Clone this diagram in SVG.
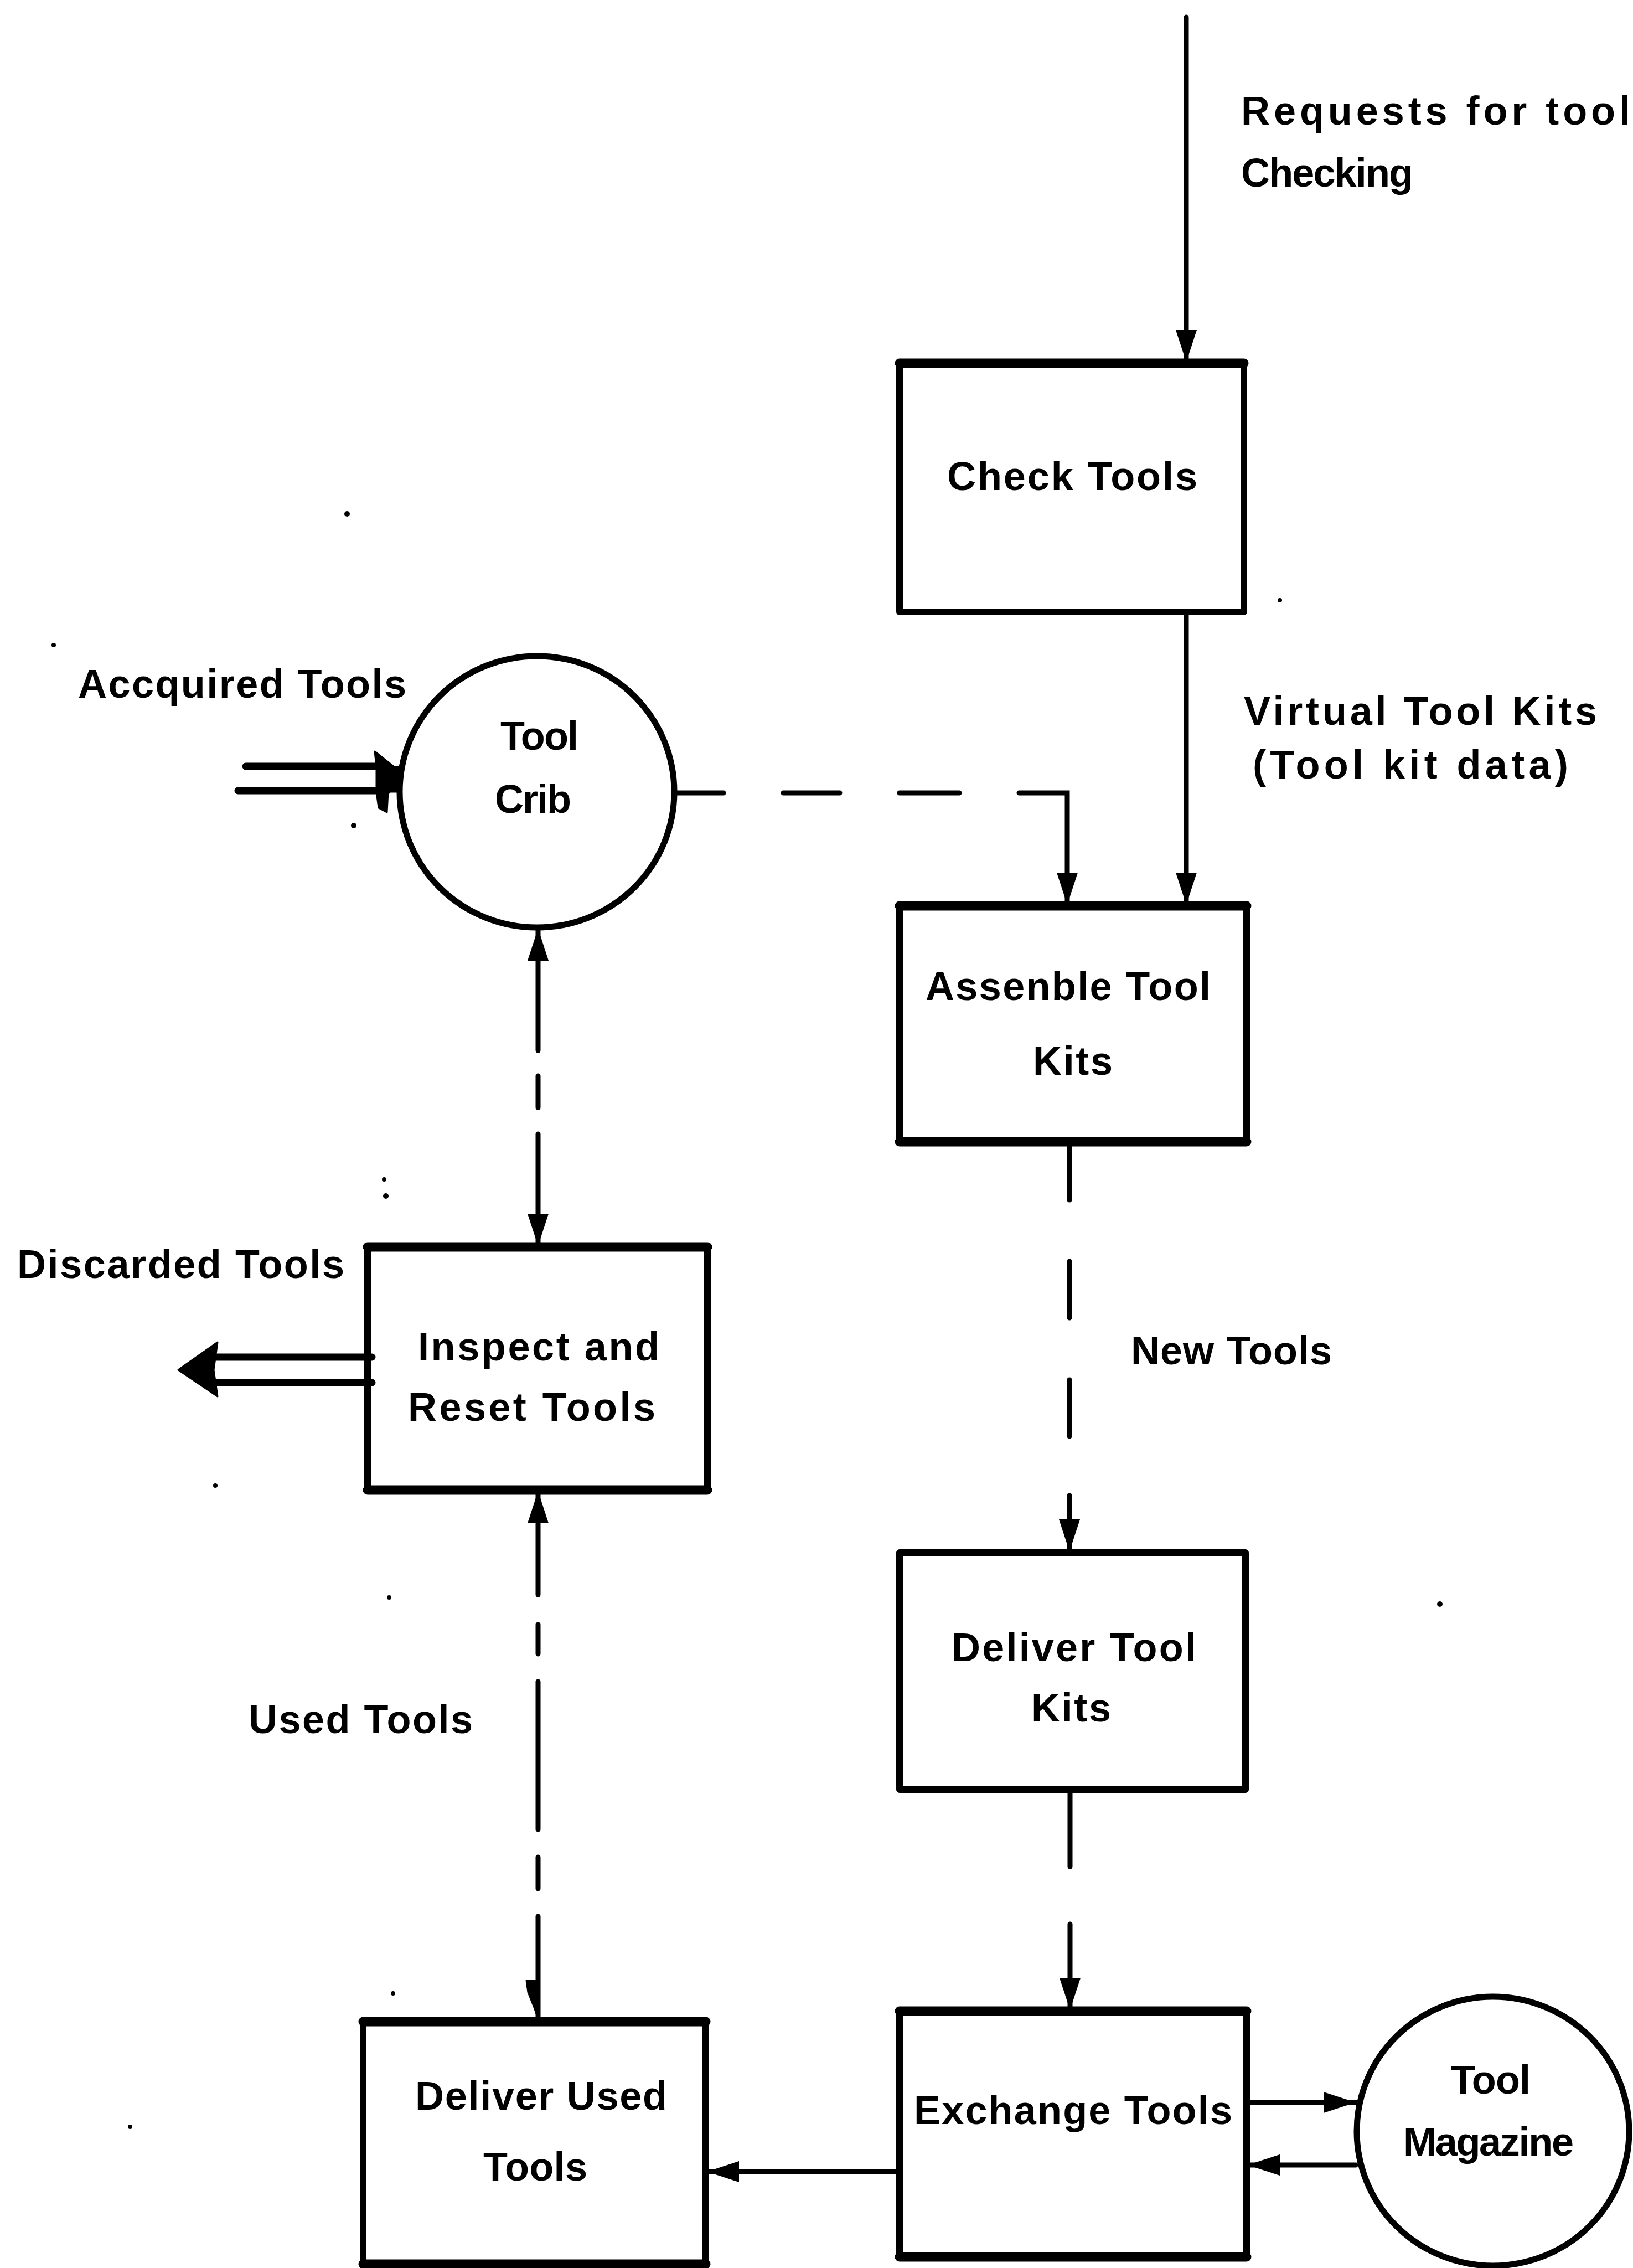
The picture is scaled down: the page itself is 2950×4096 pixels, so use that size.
<svg xmlns="http://www.w3.org/2000/svg" width="2950" height="4096" viewBox="0 0 2950 4096">
  <defs>
    <style>
      .box { fill: none; stroke: #000; stroke-width: 12; stroke-linejoin: round; }
      .edge { stroke: #000; stroke-width: 17; stroke-linecap: round; }
      .store { fill: none; stroke: #000; stroke-width: 11; }
      .flow { fill: none; stroke: #000; stroke-width: 9; stroke-linecap: round; }
      .bulk { fill: none; stroke: #000; stroke-width: 13; stroke-linecap: round; }
      .head { fill: #000; stroke: #000; stroke-width: 3; stroke-linejoin: round; }
      .lbl { font-family: "Liberation Sans", Arial, sans-serif; font-weight: bold; font-size: 72px; fill: #000; }
      .speck { fill: #000; }
    </style>
    <marker id="ah" markerUnits="userSpaceOnUse" viewBox="0 0 58 42" refX="58" refY="21" markerWidth="58" markerHeight="42" orient="auto-start-reverse">
      <path d="M0,2 L58,21 L0,40 Z" fill="#000"/>
    </marker>
  </defs>

  <!-- processes -->
  <g id="check-tools">
    <rect class="box" x="1625" y="656" width="622" height="449"/>
    <line class="edge" x1="1625" y1="656" x2="2247" y2="656"/>
    <text class="lbl" x="1711" y="885" textLength="452" lengthAdjust="spacing">Check Tools</text>
  </g>

  <g id="assemble-tool-kits">
    <rect class="box" x="1625" y="1636" width="627" height="426"/>
    <line class="edge" x1="1625" y1="1636" x2="2252" y2="1636"/>
    <line class="edge" x1="1625" y1="2062" x2="2252" y2="2062"/>
    <text class="lbl" x="1672" y="1806" textLength="515" lengthAdjust="spacing">Assenble Tool</text>
    <text class="lbl" x="1866" y="1941" textLength="144" lengthAdjust="spacing">Kits</text>
  </g>

  <g id="deliver-tool-kits">
    <rect class="box" x="1625" y="2804" width="625" height="428"/>
    <text class="lbl" x="1719" y="3000" textLength="442" lengthAdjust="spacing">Deliver Tool</text>
    <text class="lbl" x="1863" y="3109" textLength="144" lengthAdjust="spacing">Kits</text>
  </g>

  <g id="exchange-tools">
    <rect class="box" x="1625" y="3632" width="627" height="444"/>
    <line class="edge" x1="1625" y1="3632" x2="2252" y2="3632"/>
    <line class="edge" x1="1625" y1="4076" x2="2252" y2="4076"/>
    <text class="lbl" x="1651" y="3836" textLength="575" lengthAdjust="spacing">Exchange Tools</text>
  </g>

  <g id="inspect-reset-tools">
    <rect class="box" x="664" y="2252" width="614" height="439"/>
    <line class="edge" x1="664" y1="2252" x2="1278" y2="2252"/>
    <line class="edge" x1="664" y1="2691" x2="1278" y2="2691"/>
    <text class="lbl" x="755" y="2457" textLength="436" lengthAdjust="spacing">Inspect and</text>
    <text class="lbl" x="737" y="2566" textLength="447" lengthAdjust="spacing">Reset Tools</text>
  </g>

  <g id="deliver-used-tools">
    <rect class="box" x="656" y="3651" width="619" height="438"/>
    <line class="edge" x1="656" y1="3651" x2="1275" y2="3651"/>
    <line class="edge" x1="656" y1="4089" x2="1275" y2="4089"/>
    <text class="lbl" x="750" y="3810" textLength="455" lengthAdjust="spacing">Deliver Used</text>
    <text class="lbl" x="873" y="3938" textLength="188" lengthAdjust="spacing">Tools</text>
  </g>

  <!-- stores -->
  <g id="tool-crib">
    <ellipse class="store" cx="970" cy="1430" rx="248" ry="245"/>
    <text class="lbl" x="904" y="1354" textLength="141" lengthAdjust="spacing">Tool</text>
    <text class="lbl" x="894" y="1468" textLength="138" lengthAdjust="spacing">Crib</text>
  </g>

  <g id="tool-magazine">
    <ellipse class="store" cx="2697" cy="3849" rx="246" ry="243"/>
    <text class="lbl" x="2621" y="3781" textLength="144" lengthAdjust="spacing">Tool</text>
    <text class="lbl" x="2535" y="3893" textLength="308" lengthAdjust="spacing">Magazine</text>
  </g>

  <!-- flows -->
  <g id="connectors">
    <!-- requests for tool checking -->
    <path class="flow" d="M2143,31 V654" marker-end="url(#ah)"/>
    <!-- virtual tool kits -->
    <path class="flow" d="M2143,1105 V1634" marker-end="url(#ah)"/>
    <!-- crib to assembly, dashed -->
    <path class="flow" d="M1220,1432 H1307 M1415,1432 H1517 M1625,1432 H1733"/>
    <path class="flow" d="M1841,1432 H1928 V1634" marker-end="url(#ah)"/>
    <!-- new tools, dashed -->
    <path class="flow" d="M1932,2062 V2167 M1932,2278 V2380 M1932,2492 V2594"/>
    <path class="flow" d="M1932,2701 V2802" marker-end="url(#ah)"/>
    <!-- delivered kits to exchange, dashed -->
    <path class="flow" d="M1933,3232 V3371"/>
    <path class="flow" d="M1933,3475 V3630" marker-end="url(#ah)"/>
    <!-- exchange and magazine -->
    <path class="flow" d="M2254,3797 H2449" marker-end="url(#ah)"/>
    <path class="flow" d="M2449,3910 H2254" marker-end="url(#ah)"/>
    <!-- exchange to used-tool delivery -->
    <path class="flow" d="M1625,3922 H1277" marker-end="url(#ah)"/>
    <!-- crib and inspection, dashed both ways -->
    <path class="flow" d="M972,1677 V1897" marker-start="url(#ah)"/>
    <path class="flow" d="M972,1943 V2000"/>
    <path class="flow" d="M972,2048 V2250" marker-end="url(#ah)"/>
    <!-- used tools, dashed -->
    <path class="flow" d="M972,2693 V2880" marker-start="url(#ah)"/>
    <path class="flow" d="M972,2934 V2987 M972,3037 V3304 M972,3354 V3411 M972,3461 V3651"/>
    <path class="head" d="M972,3577 L951,3577 L954,3598 L966,3628 L972,3646 Z"/>
    <!-- acquired tools, double line -->
    <path class="bulk" d="M444,1384 H700 M430,1428 H700"/>
    <path class="head" d="M677,1357 L712,1385 L723,1385 L723,1430 L701,1430 L699,1467 L684,1459 L680,1430 L680,1385 Z"/>
    <!-- discarded tools, double line -->
    <path class="bulk" d="M390,2451 H672 M390,2497 H672"/>
    <path class="head" d="M322,2474 L393,2424 L386,2474 L393,2522 Z"/>
  </g>

  <!-- flow labels -->
  <g id="labels">
    <text class="lbl" x="2242" y="225" textLength="703" lengthAdjust="spacing">Requests for tool</text>
    <text class="lbl" x="2242" y="337" textLength="311" lengthAdjust="spacing">Checking</text>
    <text class="lbl" x="2247" y="1309" textLength="638" lengthAdjust="spacing">Virtual Tool Kits</text>
    <text class="lbl" x="2263" y="1406" textLength="570" lengthAdjust="spacing">(Tool kit data)</text>
    <text class="lbl" x="141" y="1260" textLength="593" lengthAdjust="spacing">Accquired Tools</text>
    <text class="lbl" x="2043" y="2464" textLength="363" lengthAdjust="spacing">New Tools</text>
    <text class="lbl" x="31" y="2308" textLength="591" lengthAdjust="spacing">Discarded Tools</text>
    <text class="lbl" x="449" y="3130" textLength="405" lengthAdjust="spacing">Used Tools</text>
  </g>

  <!-- specks on the sheet -->
  <g id="specks">
    <circle class="speck" cx="627" cy="928" r="5"/>
    <circle class="speck" cx="97" cy="1165" r="4"/>
    <circle class="speck" cx="639" cy="1491" r="5"/>
    <circle class="speck" cx="694" cy="2130" r="4"/>
    <circle class="speck" cx="697" cy="2160" r="5"/>
    <circle class="speck" cx="389" cy="2683" r="4"/>
    <circle class="speck" cx="703" cy="2885" r="4"/>
    <circle class="speck" cx="710" cy="3600" r="4"/>
    <circle class="speck" cx="235" cy="3841" r="4"/>
    <circle class="speck" cx="2601" cy="2897" r="5"/>
    <circle class="speck" cx="2312" cy="1084" r="4"/>
  </g>
</svg>
